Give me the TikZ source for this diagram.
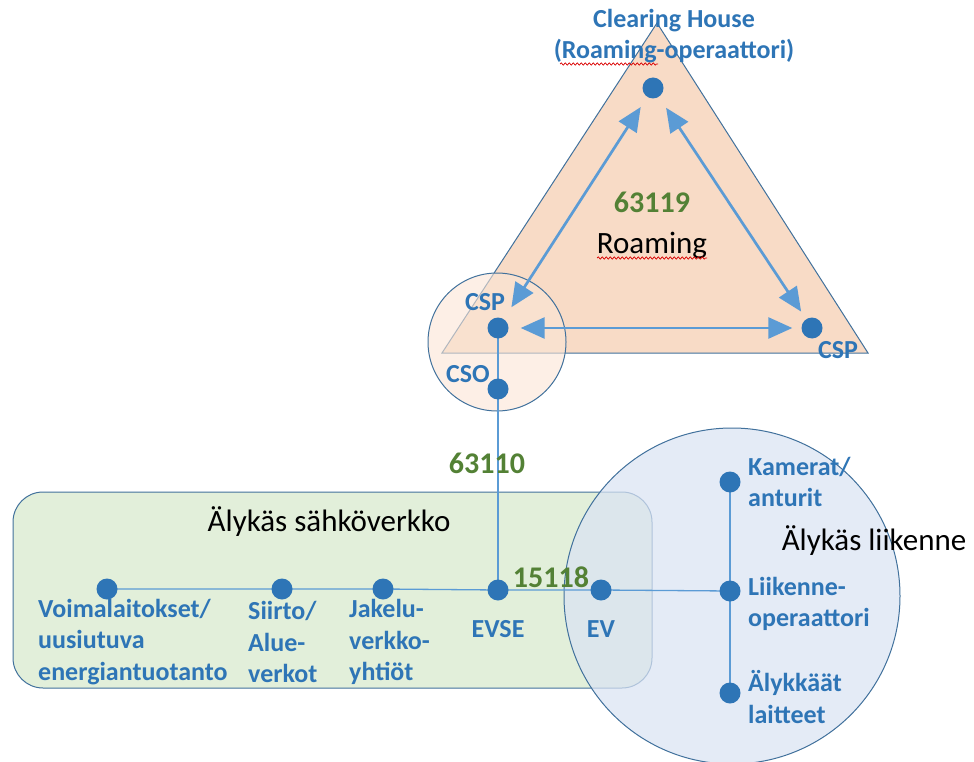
\documentclass[tikz,border=0pt]{standalone}
\usepackage{fontspec}
\setmainfont{Carlito}
\usetikzlibrary{arrows.meta,decorations.pathmorphing}
\definecolor{dotblue}{HTML}{2E75B6}
\definecolor{lineblue}{HTML}{5B9BD5}
\definecolor{edgeblue}{HTML}{41719C}
\definecolor{peach}{HTML}{F8DBC6}
\definecolor{lightpeach}{HTML}{FBE5D6}
\definecolor{gridgreen}{HTML}{E2EFDA}
\definecolor{trafficblue}{HTML}{DAE3F3}
\definecolor{stdgreen}{HTML}{538135}
\pgfdeclarelayer{shapes}
\pgfdeclarelayer{wires}
\pgfsetlayers{shapes,wires,main}
\tikzset{
  dot/.style={circle,fill=dotblue,minimum size=21pt,inner sep=0pt},
  lbl/.style={text=dotblue,font=\fontsize{26}{31.5}\selectfont\bfseries,inner sep=0pt,align=left},
  stdnum/.style={text=stdgreen,font=\fontsize{30}{34}\selectfont\bfseries,inner sep=0pt},
  title/.style={text=black,font=\fontsize{31}{36}\selectfont,inner sep=0pt},
  link/.style={draw=lineblue,line width=1.3pt},
  biarrow/.style={draw=lineblue,line width=2.7pt,
    {Triangle[length=24pt,width=21pt]}-{Triangle[length=24pt,width=21pt]}},
  squiggle/.style={draw=red!85!black,line width=0.7pt,
    decorate,decoration={snake,amplitude=1.1pt,segment length=4pt}}
}
\begin{document}
\begin{tikzpicture}[x=1pt,y=-1pt]
\useasboundingbox (0,0) rectangle (974,762);

\begin{pgfonlayer}{shapes}
% roaming triangle and the operator circle
\draw[edgeblue,line width=1pt,fill=peach] (657,23) -- (868,353) -- (442,353) -- cycle;
\draw[edgeblue,line width=1pt,fill=lightpeach,fill opacity=0.6] (497,342) circle (69);
% smart grid panel and smart traffic circle
\draw[edgeblue,line width=1pt,fill=gridgreen,rounded corners=30pt] (13,492) rectangle (652,688);
\draw[edgeblue,line width=1pt,fill=trafficblue,fill opacity=0.72] (732,596) circle (168);
\end{pgfonlayer}

% actors
\node[dot] (ch)   at (653,88)  {};
\node[dot] (cspl) at (498,328) {};
\node[dot] (cspr) at (812,328) {};
\node[dot] (cso)  at (498,389) {};
\node[dot] (pp)   at (107,589) {};
\node[dot] (tso)  at (282,589) {};
\node[dot] (dso)  at (383,589) {};
\node[dot] (evse) at (498,590) {};
\node[dot] (ev)   at (601,590) {};
\node[dot] (cam)  at (730,482) {};
\node[dot] (top)  at (730,591) {};
\node[dot] (dev)  at (730,693) {};

% wiring between the actors
\begin{pgfonlayer}{wires}
\path[link] (cspl.center) -- (cso.center) -- (evse.center);
\path[link] (pp.center) -- (tso.center) -- (dso.center) -- (evse.center) -- (ev.center) -- (top.center);
\path[link] (cam.center) -- (top.center) -- (dev.center);
\end{pgfonlayer}

% roaming exchanges
\path[biarrow,shorten <=12pt,shorten >=14pt] (ch) -- (cspl);
\path[biarrow,shorten <=13pt,shorten >=9pt] (ch) -- (cspr);
\path[biarrow,shorten <=12pt,shorten >=9pt] (cspl) -- (cspr);

% labels
\node[lbl,align=center] (chl) at (674,36) {Clearing House\\(Roaming-operaattori)};
\node[lbl] at (485,302) {CSP};
\node[lbl] at (838,350) {CSP};
\node[lbl] at (468,374) {CSO};
\node[stdnum] at (652,202) {63119};
\node[title] (roam) at (652,245) {Roaming};
\node[stdnum] at (487,463) {63110};
\node[stdnum] at (551,577) {15118};
\node[title] at (329,522) {Älykäs sähköverkko};
\node[title] at (874,541) {Älykäs liikenne};

\node[lbl,anchor=west] at (38,642) {Voimalaitokset/\\uusiutuva\\energiantuotanto};
\node[lbl,anchor=west] at (248,642) {Siirto/\\Alue-\\verkot};
\node[lbl,anchor=west] at (349,642) {Jakelu-\\verkko-\\yhtiöt};
\node[lbl] at (498,629) {EVSE};
\node[lbl] at (601,629) {EV};
\node[lbl,anchor=west] at (748,482) {Kamerat/\\anturit};
\node[lbl,anchor=west] at (748,604) {Liikenne-\\operaattori};
\node[lbl,anchor=west] at (748,697) {Älykkäät\\laitteet};

% spell-check marks under the roaming words
\path[squiggle] (560,64) -- (658,64);
\path[squiggle] (597,258) -- (707,258);
\end{tikzpicture}
\end{document}
